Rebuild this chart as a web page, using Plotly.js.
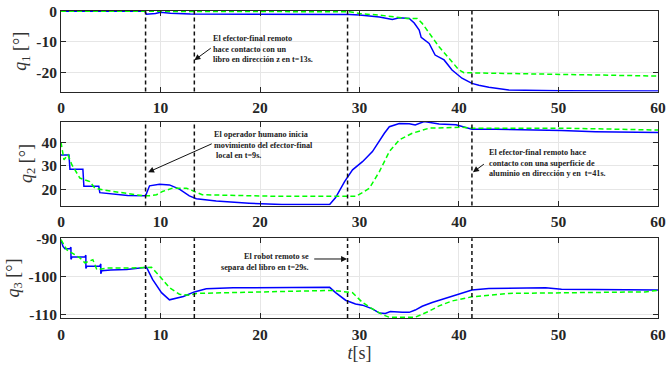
<!DOCTYPE html>
<html>
<head>
<meta charset="utf-8">
<script src="https://cdn.plot.ly/plotly-3.0.1.min.js"></script>
<style>html,body{margin:0;padding:0;background:#fff;}#chart{width:666px;height:371px;}</style>
</head>
<body>
<div id="chart"></div>
<script>
// ---- data ----
const q1BlueT = [0, 8.4, 8.6, 9.5, 10, 11, 13, 20, 27, 29, 30, 32, 33.3, 34, 35, 35.5, 36, 36.2, 37, 37.6, 38.5, 39.3, 40.3, 41.3, 42, 43, 45, 50, 60];
const q1BlueV = [0, 0, -1, -0.8, -0.4, -0.7, -0.9, -0.9, -0.9, -1.1, -1.3, -1.9, -2.7, -2.2, -2.4, -3.9, -6.2, -8.6, -10.6, -14.4, -16, -19.3, -22, -23.7, -24.3, -25, -25.9, -26.1, -26.2];
const q1GreenT = [0, 28, 29, 30, 32, 34.8, 35.8, 36.3, 37, 38, 39, 40, 40.5, 45, 50, 60];
const q1GreenV = [0, 0, -0.2, -0.8, -1.3, -2.4, -2.4, -4, -7.3, -11.7, -15.5, -19.3, -20.2, -20.5, -20.7, -21.3];

const q2BlueT = [0, 0.1, 0.8, 0.9, 2.2, 2.3, 3.8, 3.9, 5.2, 6.7, 8.5, 8.9, 9.9, 10.9, 11.9, 12.9, 13.6, 15.6, 18.9, 22.2, 27, 27.6, 28.5, 29, 29.3, 30.3, 31.3, 32.5, 33, 34, 35, 35.6, 36.5, 38, 39.7, 41.3, 43.7, 50.3, 53.7, 60];
const q2BlueV = [34.5, 34.5, 34.5, 28.5, 28.5, 21.2, 21.2, 18.5, 17.9, 17.3, 17.2, 21.4, 22.1, 21.8, 20, 17.1, 15.9, 14.9, 14, 13.4, 13.4, 16.4, 23.2, 26, 28.2, 31.7, 36, 43.8, 46.6, 48, 47.9, 47.4, 48.8, 47.8, 47.4, 45.5, 45.5, 45, 44.5, 44.1];
const q2GreenT = [0, 0.3, 0.7, 1.1, 1.9, 2.9, 3.4, 4.2, 5.9, 8.2, 8.9, 9.6, 10.2, 11.2, 12.6, 13.4, 14.2, 22.2, 29.6, 30.3, 31, 32, 33, 34, 35.3, 37, 40.3, 41.3, 50.3, 60];
const q2GreenV = [40, 32.5, 34.6, 30.3, 24.7, 23.2, 20.4, 19.7, 18.6, 17.2, 17.2, 17.6, 19, 20.4, 20.4, 19, 17.6, 16.9, 16.9, 18.5, 20.4, 27.5, 36, 41, 43.8, 46, 46.4, 46, 46, 45.2];

const q3BlueT = [0, 0.2, 0.4, 0.9, 1.0, 1.0, 1.1, 2.4, 2.5, 2.5, 2.6, 3.9, 4.0, 4.0, 4.1, 5, 6.6, 8.6, 9.2, 10.1, 10.9, 12.3, 13.4, 14.6, 17.3, 21.2, 27, 27.6, 28.6, 29.6, 30.3, 31.3, 32, 32.6, 33.1, 34.3, 35, 35.6, 36.3, 37.3, 38.6, 40.3, 41.3, 43, 48.7, 50.3, 60];
const q3BlueV = [-90.3, -92, -92.6, -92.6, -92.2, -95.4, -94.8, -94.8, -94.3, -97.8, -97.2, -97.2, -96.6, -99.2, -98.4, -98.2, -98.1, -97.5, -100.7, -104.2, -106.1, -105.2, -104, -103.2, -102.9, -102.9, -102.8, -104.2, -106.2, -107.2, -107.5, -108.5, -109.6, -109.7, -109.2, -109.4, -109.4, -108.8, -107.8, -106.8, -105.7, -104.4, -103.5, -103.1, -102.9, -103.3, -103.5];
const q3GreenT = [0, 0.6, 1.4, 1.9, 2.4, 3.2, 3.6, 4.6, 6.6, 9.1, 9.9, 10.9, 11.9, 12.9, 13.6, 17.3, 27.3, 29.3, 30.3, 31.3, 32.3, 33, 35.6, 37, 38, 39.3, 41.3, 45, 50.3, 58.7, 60];
const q3GreenV = [-90.2, -92.9, -94.2, -95, -96.3, -95.5, -98.1, -97.7, -97.7, -97.5, -99.8, -102.9, -104.6, -104.9, -104.4, -104.2, -103.6, -104.2, -106.8, -108.5, -110, -110.7, -110.7, -109.1, -107.7, -106.4, -105.3, -104.4, -104.2, -104, -103.6];

const eventTimes = [8.5, 13.4, 28.8, 41.3];

const xTickVals = [0, 10, 20, 30, 40, 50, 60];
const xTickText = ['0', '10', '20', '30', '40', '50', '60'];
const y1TickVals = [-20, -10, 0];
const y1TickText = ['-20', '-10', '0'];
const y2TickVals = [20, 30, 40];
const y2TickText = ['20', '30', '40'];
const y3TickVals = [-110, -100, -90];
const y3TickText = ['-110', '-100', '-90'];

const note1 = 'El efector-final remoto<br>hace contacto con un<br>libro en dirección z en t=13s.';
const note2 = 'El operador humano inicia<br>movimiento del efector-final<br> local en t=9s.';
const note3 = 'El efector-final remoto hace<br>contacto con una superficie de<br>aluminio en dirección y en  t=41s.';
const note4 = 'El robot remoto se<br>separa del libro en t=29s.';

// ---- styling ----
const BLUE = '#0000ff', GREEN = '#00ff00', AX = '#262626';
const tickFont = {family: 'Liberation Serif, Times New Roman, serif', size: 15.5, weight: 'bold', color: AX};
const noteFont = {family: 'Liberation Serif, Times New Roman, serif', size: 8.2, weight: 'bold', color: '#222'};
const titleFont = {family: 'Liberation Serif, Times New Roman, serif', size: 18, color: '#333'};

function blue(x, y, xa, ya) {
  return {x: x, y: y, xaxis: xa, yaxis: ya, type: 'scatter', mode: 'lines',
          line: {color: BLUE, width: 1.5}, hoverinfo: 'skip', showlegend: false};
}
function green(x, y, xa, ya) {
  return {x: x, y: y, xaxis: xa, yaxis: ya, type: 'scatter', mode: 'lines',
          line: {color: GREEN, width: 1.5, dash: '5px,3px'}, hoverinfo: 'skip', showlegend: false};
}

const data = [
  blue(q1BlueT, q1BlueV, 'x', 'y'), green(q1GreenT, q1GreenV, 'x', 'y'),
  blue(q2BlueT, q2BlueV, 'x2', 'y2'), green(q2GreenT, q2GreenV, 'x2', 'y2'),
  blue(q3BlueT, q3BlueV, 'x3', 'y3'), green(q3GreenT, q3GreenV, 'x3', 'y3')
];

function xAxis(anchor, withTitle) {
  const a = {domain: [0, 1], anchor: anchor, range: [0, 60.001], tickvals: xTickVals, ticktext: xTickText,
    ticks: 'inside', ticklen: 5, tickcolor: AX, tickwidth: 1, showline: true, linecolor: AX, linewidth: 1,
    mirror: 'allticks', showgrid: true, gridcolor: '#e6e6e6', gridwidth: 1, zeroline: false,
    tickfont: tickFont, fixedrange: true, ticklabeloverflow: 'allow', ticklabelstandoff: 2};
  if (withTitle) a.title = {text: '<i>t</i>[s]', font: titleFont, standoff: 1};
  return a;
}
function yAxis(anchor, dom, range, tv, tt, title) {
  return {domain: dom, anchor: anchor, range: range, tickvals: tv, ticktext: tt,
    ticks: 'inside', ticklen: 5, tickcolor: AX, tickwidth: 1, showline: true, linecolor: AX, linewidth: 1,
    mirror: 'allticks', showgrid: true, gridcolor: '#e6e6e6', gridwidth: 1, zeroline: false,
    tickfont: tickFont, fixedrange: true,
    title: {text: title, font: titleFont, standoff: 4}};
}

const shapes = [];
[['x', 'y domain'], ['x2', 'y2 domain'], ['x3', 'y3 domain']].forEach(function (p) {
  eventTimes.forEach(function (t) {
    shapes.push({type: 'line', xref: p[0], yref: p[1], x0: t, x1: t, y0: 0, y1: 1,
      line: {color: '#111', width: 1.5, dash: '4px,3px'}});
  });
});

function arrow(xa, ya, x, y, ax, ay) {
  return {xref: xa, yref: ya, axref: xa, ayref: ya, x: x, y: y, ax: ax, ay: ay, text: '',
    showarrow: true, arrowhead: 2, arrowsize: 1.2, arrowwidth: 1, arrowcolor: '#111', standoff: 0, startstandoff: 0};
}
function note(xa, ya, x, y, text, xanchor, align) {
  return {xref: xa, yref: ya, x: x, y: y, text: text, showarrow: false, xanchor: xanchor, yanchor: 'middle',
    align: align, font: noteFont};
}

const annotations = [
  note('x', 'y', 15.1, -12.5, note1, 'left', 'left'),
  arrow('x', 'y', 13.4, -16.1, 15.2, -11.8),
  note('x2', 'y2', 15.2, 38.85, note2, 'left', 'left'),
  arrow('x2', 'y2', 8.75, 27.2, 15.3, 39.6),
  note('x2', 'y2', 42.8, 31.06, note3, 'left', 'left'),
  arrow('x2', 'y2', 41.4, 27.2, 42.65, 31.1),
  note('x3', 'y3', 25.15, -96.1, note4, 'right', 'right'),
  arrow('x3', 'y3', 28.75, -95.3, 25.3, -95.3)
];

const layout = {
  width: 666, height: 371,
  margin: {l: 61, r: 8, t: 11, b: 53, pad: 0},
  paper_bgcolor: '#ffffff', plot_bgcolor: '#ffffff',
  showlegend: false,
  xaxis: xAxis('y', false),
  xaxis2: xAxis('y2', false),
  xaxis3: xAxis('y3', true),
  yaxis: yAxis('x', [0.7374, 1], [-26.4, 0.05], y1TickVals, y1TickText, '<i>q</i><sub>1</sub> [°]'),
  yaxis2: yAxis('x2', [0.3664, 0.6398], [13, 48.8], y2TickVals, y2TickText, '<i>q</i><sub>2</sub> [°]'),
  yaxis3: yAxis('x3', [0, 0.260], [-110.9, -89.8], y3TickVals, y3TickText, '<i>q</i><sub>3</sub> [°]'),
  shapes: shapes,
  annotations: annotations
};

Plotly.newPlot('chart', data, layout, {staticPlot: true, displayModeBar: false});
</script>
</body>
</html>
